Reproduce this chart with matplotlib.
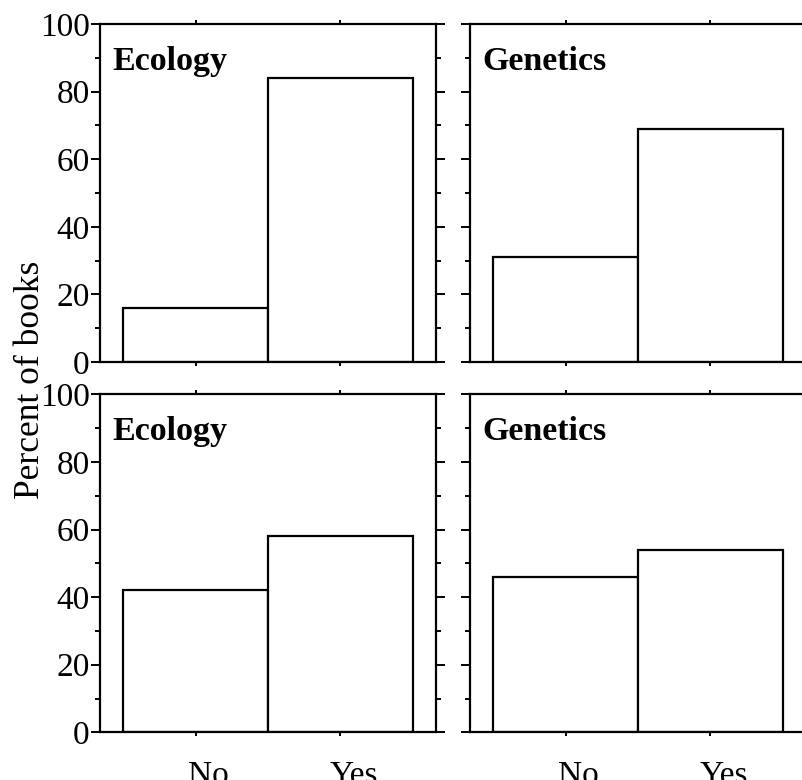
import matplotlib
matplotlib.use("Agg")
import matplotlib.pyplot as plt
import matplotlib.transforms as mtransforms
from matplotlib.ticker import MultipleLocator

# Werte (Prozent der Bücher)
categories = ["No", "Yes"]
panel_titles = ["Ecology", "Genetics", "Ecology", "Genetics"]
top_ecology = [16, 84]
top_genetics = [31, 69]
bottom_ecology = [42, 58]
bottom_genetics = [46, 54]
y_ticks = [0, 20, 40, 60, 80, 100]

plt.rcParams['font.family'] = ['Liberation Serif', 'DejaVu Serif']

fig = plt.figure(figsize=(8.02, 7.8), dpi=100)

W, H = 802, 780
aw, ah = 336 / W, 338 / H
lefts = [100 / W, 470 / W]
bottoms = [1 - 362 / H, 1 - 732.3 / H]

panels = [
    (lefts[0], bottoms[0], top_ecology, panel_titles[0], False),
    (lefts[1], bottoms[0], top_genetics, panel_titles[1], False),
    (lefts[0], bottoms[1], bottom_ecology, panel_titles[2], True),
    (lefts[1], bottoms[1], bottom_genetics, panel_titles[3], True),
]

shift = mtransforms.ScaledTranslation(13 / 100, 0, fig.dpi_scale_trans)

for i, (l, b, vals, title, show_x) in enumerate(panels):
    ax = fig.add_axes([l, b, aw, ah])
    x = list(range(len(categories)))
    ax.bar(x, vals, width=1.0, facecolor="white", edgecolor="black",
           linewidth=1.6, zorder=2)
    ax.set_xlim(-0.66, 1.66)
    ax.set_ylim(0, 100)
    ax.set_xticks(x)
    ax.set_xticklabels(categories if show_x else [])
    ax.set_yticks(y_ticks)
    ax.yaxis.set_minor_locator(MultipleLocator(10))
    # nur linke Spalte hat Zahlen an der y-Achse
    if l != lefts[0]:
        ax.set_yticklabels([])
    for sp in ax.spines.values():
        sp.set_linewidth(1.6)
    ax.tick_params(axis="y", which="major", direction="out", length=6.5,
                   width=1.4, labelsize=24, pad=1, right=True)
    ax.tick_params(axis="y", which="minor", direction="out", length=3.5,
                   width=1.4, right=True)
    ax.tick_params(axis="x", which="major", direction="out", length=3,
                   width=1.4, labelsize=24, pad=17, top=True)
    for lab in ax.get_xticklabels():
        lab.set_transform(lab.get_transform() + shift)
    ax.text(0.036, 0.935, title, transform=ax.transAxes, fontsize=24.5,
            fontweight="bold", va="top", ha="left")

fig.text(31 / W, 1 - 380 / H, "Percent of books", rotation=90,
         fontsize=25.5, ha="center", va="center")

fig.savefig("out.png", dpi=100)
